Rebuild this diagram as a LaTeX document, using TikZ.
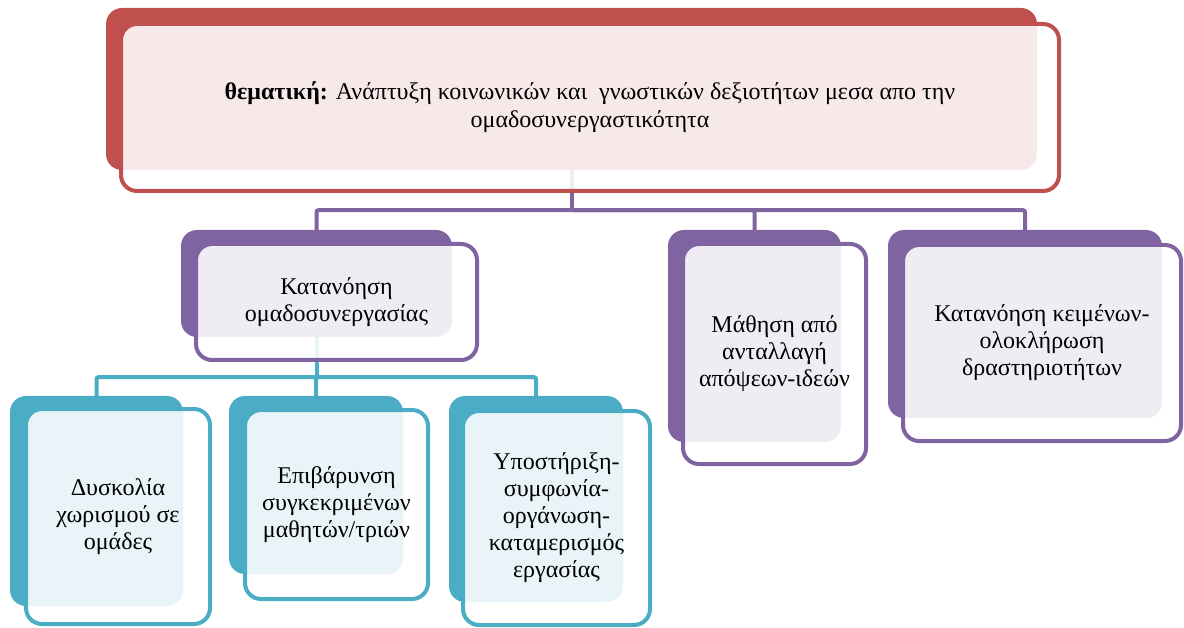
\documentclass[tikz,border=0pt]{standalone}
\usepackage{fontspec}
\setmainfont{Liberation Serif}
\pgfdeclarelayer{bg}
\pgfsetlayers{bg,main}
\definecolor{cred}{HTML}{C0504D}
\definecolor{cpur}{HTML}{8064A2}
\definecolor{cteal}{HTML}{4BACC6}
\tikzset{
  backbox/.style={draw=none, fill=#1, rounded corners=16pt, inner sep=0pt},
  frontbox/.style={draw=#1, line width=4pt, fill=white, fill opacity=0.88, text opacity=1,
    draw opacity=1, rounded corners=16pt, inner sep=0pt, align=center,
    font=\fontsize{24}{27}\selectfont},
  conn/.style={draw=#1, line width=4pt, rounded corners=2pt}
}
\begin{document}
\begin{tikzpicture}[x=1pt,y=-1pt]
\useasboundingbox (0,0) rectangle (1184,628);
% top
\node[backbox=cred, minimum width=931, minimum height=162] (topb) at (571.5,89) {};
\node[frontbox=cred, minimum width=938, minimum height=167, font=\fontsize{24}{28}\selectfont] (top) at (590,107.5)
  {\textbf{θεματική:} Ανάπτυξη κοινωνικών και\ \ γνωστικών δεξιοτήτων μεσα απο την\\ ομαδοσυνεργαστικότητα};
% level 2
\node[backbox=cpur, minimum width=271, minimum height=107] (Ab) at (316.5,283.5) {};
\node[frontbox=cpur, minimum width=281, minimum height=116] (A) at (336.5,302)
  {Κατανόηση\\ ομαδοσυνεργασίας};
\node[backbox=cpur, minimum width=173, minimum height=212] (Mb) at (754.5,336) {};
\node[frontbox=cpur, minimum width=183, minimum height=220] (M) at (774.5,354)
  {Μάθηση από\\ ανταλλαγή\\ απόψεων-ιδεών};
\node[backbox=cpur, minimum width=274, minimum height=188] (Kb) at (1025,324) {};
\node[frontbox=cpur, minimum width=278, minimum height=196] (K) at (1042,343)
  {Κατανόηση κειμένων-\\ ολοκλήρωση\\ δραστηριοτήτων};
% level 3
\node[backbox=cteal, minimum width=173, minimum height=210] (Db) at (96.5,501) {};
\node[frontbox=cteal, minimum width=184, minimum height=215] (D) at (118,516.5)
  {Δυσκολία\\ χωρισμού σε\\ ομάδες};
\node[backbox=cteal, minimum width=174, minimum height=178] (Eb) at (316,485) {};
\node[frontbox=cteal, minimum width=183, minimum height=189] (E) at (336.5,504.5)
  {Επιβάρυνση\\ συγκεκριμένων\\ μαθητών/τριών};
\node[backbox=cteal, minimum width=174, minimum height=206] (Ub) at (536,499) {};
\node[frontbox=cteal, minimum width=187, minimum height=214] (U) at (556.5,518)
  {Υποστήριξη-\\ συμφωνία-\\ οργάνωση-\\ καταμερισμός\\ εργασίας};
% connectors
\begin{pgfonlayer}{bg}
\draw[conn=cpur] (topb.south) -- ++(0,40) coordinate (j1);
\draw[conn=cpur] (j1) -| ([yshift=-8pt]Ab.north);
\draw[conn=cpur] (j1) -| ([yshift=-8pt]Mb.north);
\draw[conn=cpur] (j1) -| ([yshift=-8pt]Kb.north);
\draw[conn=cteal] (Ab.south) -- ++(0,40) coordinate (j2);
\draw[conn=cteal] (j2) -| ([yshift=-6pt]Db.north);
\draw[conn=cteal] (j2) -| ([yshift=-6pt]Eb.north);
\draw[conn=cteal] (j2) -| ([yshift=-6pt]Ub.north);
\end{pgfonlayer}
\end{tikzpicture}
\end{document}
